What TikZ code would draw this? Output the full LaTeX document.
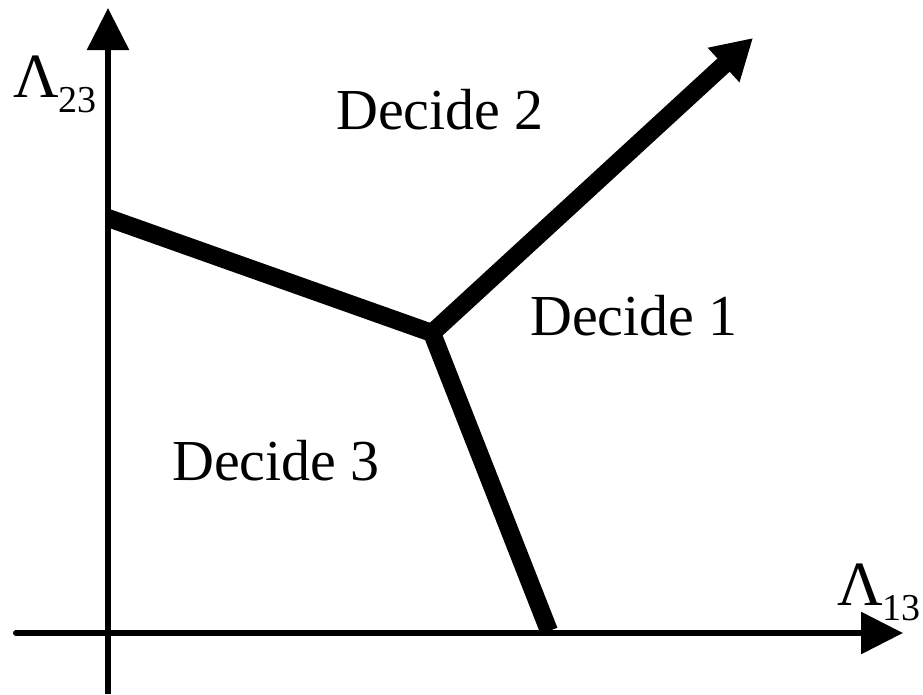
\documentclass[tikz,border=0pt]{standalone}
\usepackage{fontspec}
\setmainfont{Liberation Serif}
\usetikzlibrary{arrows.meta}
\begin{document}
\begin{tikzpicture}[x=1pt,y=-1pt,
  axis/.style={line width=6pt,-{Triangle[length=42pt,width=41pt]}},
  bound/.style={line width=18pt},
  region/.style={font=\fontsize{58}{58}\selectfont, inner sep=0pt, anchor=base},
  axlabel/.style={inner sep=0pt, anchor=base west}]
\useasboundingbox (0,0) rectangle (923,694);
\coordinate (xs) at (16,633);
\coordinate (xe) at (903,633);
\coordinate (ys) at (108,694);
\coordinate (ye) at (108,8);
\coordinate (p0) at (108,218);
\coordinate (j) at (432,333);
\coordinate (pb) at (549,631);
\coordinate (tip) at (753,38);
\draw[axis,line cap=round] (xs) -- (xe);
\draw[axis] (ys) -- (ye);
\draw[bound,line join=miter] (p0) -- (j) -- (pb);
\draw[bound,line cap=round,-{Triangle[length=40pt,width=44pt]}] (j) -- (tip);
\node[region] (d2) at (440,129) {Decide 2};
\node[region] (d1) at (634,335) {Decide 1};
\node[region] (d3) at (276,480) {Decide 3};
\node[axlabel] (l23) at (13,97) {\fontsize{63}{63}\selectfont Λ\raisebox{-15pt}{\fontsize{38}{38}\selectfont 23}};
\node[axlabel] (l13) at (837,605) {\fontsize{63}{63}\selectfont Λ\raisebox{-15pt}{\fontsize{38}{38}\selectfont 13}};
\end{tikzpicture}
\end{document}
